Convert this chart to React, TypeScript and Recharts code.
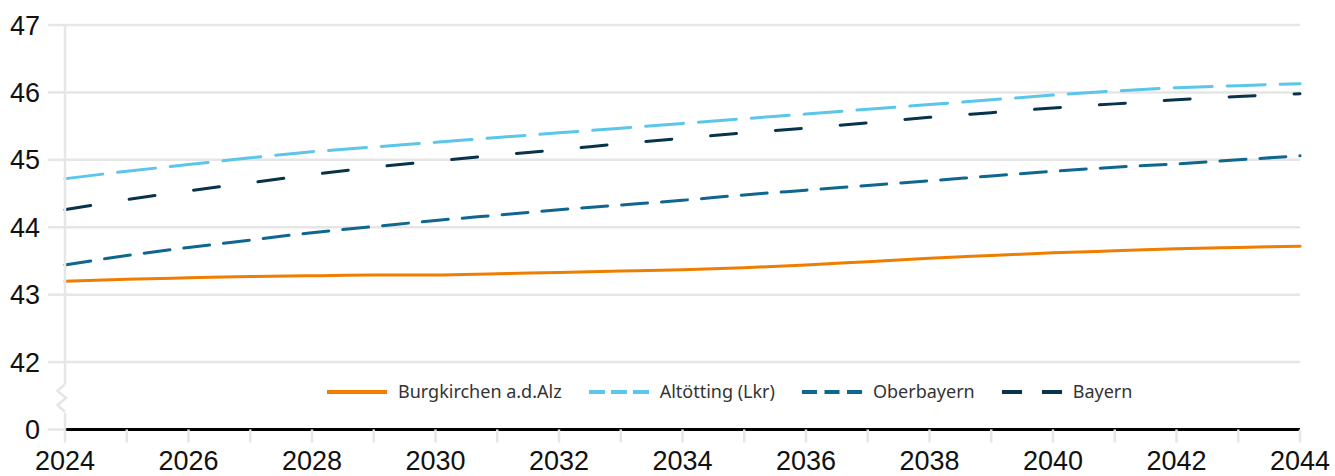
import React from 'react'
import { LineChart, Line, XAxis, YAxis, CartesianGrid } from 'recharts'

// values, one per year 2024..2044
const years = [2024, 2025, 2026, 2027, 2028, 2029, 2030, 2031, 2032, 2033, 2034, 2035, 2036, 2037, 2038, 2039, 2040, 2041, 2042, 2043, 2044]
const burgkirchen = [43.2, 43.23, 43.25, 43.27, 43.28, 43.29, 43.29, 43.31, 43.33, 43.35, 43.37, 43.4, 43.44, 43.49, 43.54, 43.58, 43.62, 43.65, 43.68, 43.7, 43.72]
const altoetting = [44.72, 44.83, 44.93, 45.03, 45.12, 45.19, 45.26, 45.33, 45.4, 45.47, 45.54, 45.61, 45.68, 45.75, 45.82, 45.89, 45.96, 46.02, 46.07, 46.1, 46.13]
const oberbayern = [43.44, 43.58, 43.7, 43.81, 43.92, 44.01, 44.1, 44.18, 44.26, 44.33, 44.4, 44.48, 44.55, 44.62, 44.69, 44.76, 44.83, 44.89, 44.94, 45.0, 45.06]
const bayern = [44.26, 44.41, 44.54, 44.66, 44.78, 44.89, 44.98, 45.07, 45.15, 45.24, 45.32, 45.4, 45.47, 45.55, 45.63, 45.7, 45.77, 45.83, 45.89, 45.94, 45.98]

const yTickLabels = [0, 42, 43, 44, 45, 46, 47]
// axis is broken between 0 and 42: everything above the break is shifted down
const BREAK_SHIFT = 41
const toPlot = (v: number) => (v >= 42 ? v - BREAK_SHIFT : v)
const yTicks = yTickLabels.map(toPlot)

const series = [
  { key: 'burgkirchen', name: 'Burgkirchen a.d.Alz', color: '#EF7D00', dash: undefined, legendDash: undefined },
  { key: 'altoetting', name: 'Altötting (Lkr)', color: '#5BC5EA', dash: '38 15', legendDash: '16 6' },
  { key: 'oberbayern', name: 'Oberbayern', color: '#0F6790', dash: '26 14', legendDash: '15 7.5' },
  { key: 'bayern', name: 'Bayern', color: '#07344A', dash: '26 39', legendDash: '20 20' },
]

const data = years.map((year, i) => ({
  year,
  burgkirchen: toPlot(burgkirchen[i]),
  altoetting: toPlot(altoetting[i]),
  oberbayern: toPlot(oberbayern[i]),
  bayern: toPlot(bayern[i]),
}))

const GRID = '#e6e6e6'
const tickFont = { fontFamily: 'Liberation Sans, Arial, sans-serif', fontSize: 27, fill: '#111' }

export default function App() {
  return (
    <div style={{ position: 'relative', width: 1335, height: 476, background: '#fff' }}>
      <style>{'body{margin:0}'}</style>
      <LineChart width={1335} height={476} data={data} margin={{ top: 25, right: 35, bottom: 0, left: 0 }}>
        <CartesianGrid vertical={false} stroke={GRID} strokeWidth={2.5} />
        <XAxis
          dataKey='year'
          type='number'
          domain={[2024, 2044]}
          ticks={years}
          interval={0}
          height={46.5}
          tickSize={13}
          tickMargin={8}
          tickFormatter={(y: number) => (y % 2 === 0 ? String(y) : '')}
          tick={tickFont}
          tickLine={{ stroke: GRID, strokeWidth: 2.5 }}
          axisLine={{ stroke: '#000', strokeWidth: 3 }}
        />
        <YAxis
          type='number'
          domain={[0, 6]}
          ticks={yTicks}
          interval={0}
          width={65}
          tickSize={17}
          tickMargin={8}
          tickFormatter={(t: number) => (t === 0 ? '0' : String(t + BREAK_SHIFT))}
          tick={tickFont}
          tickLine={{ stroke: GRID, strokeWidth: 2.5 }}
          axisLine={{ stroke: GRID, strokeWidth: 2.5 }}
        />
        {series.map(s => (
          <Line
            key={s.key}
            type='monotone'
            dataKey={s.key}
            name={s.name}
            stroke={s.color}
            strokeWidth={3}
            strokeDasharray={s.dash}
            strokeLinecap='round'
            dot={false}
            activeDot={false}
            isAnimationActive={false}
          />
        ))}
      </LineChart>

      {/* axis break mark */}
      <svg width={1335} height={476} style={{ position: 'absolute', left: 0, top: 0, pointerEvents: 'none' }}>
        <rect x={60} y={384} width={10} height={29} fill='#fff' />
        <polyline points='65,384 57.5,391 66,398 57.5,405 65,412' fill='none' stroke={GRID} strokeWidth={2.5} />
      </svg>

      {/* legend */}
      <div
        style={{
          position: 'absolute',
          left: 327,
          top: 379,
          display: 'flex',
          alignItems: 'center',
          fontFamily: 'Noto Sans, sans-serif',
          fontSize: 18,
          lineHeight: '25px',
          color: '#333',
        }}
      >
        {series.map(s => (
          <div key={s.key} style={{ display: 'flex', alignItems: 'center', marginRight: 27 }}>
            <svg width={60} height={6} style={{ marginRight: 11 }}>
              <line x1={0} y1={3} x2={60} y2={3} stroke={s.color} strokeWidth={4} strokeDasharray={s.legendDash} />
            </svg>
            <span>{s.name}</span>
          </div>
        ))}
      </div>
    </div>
  )
}
